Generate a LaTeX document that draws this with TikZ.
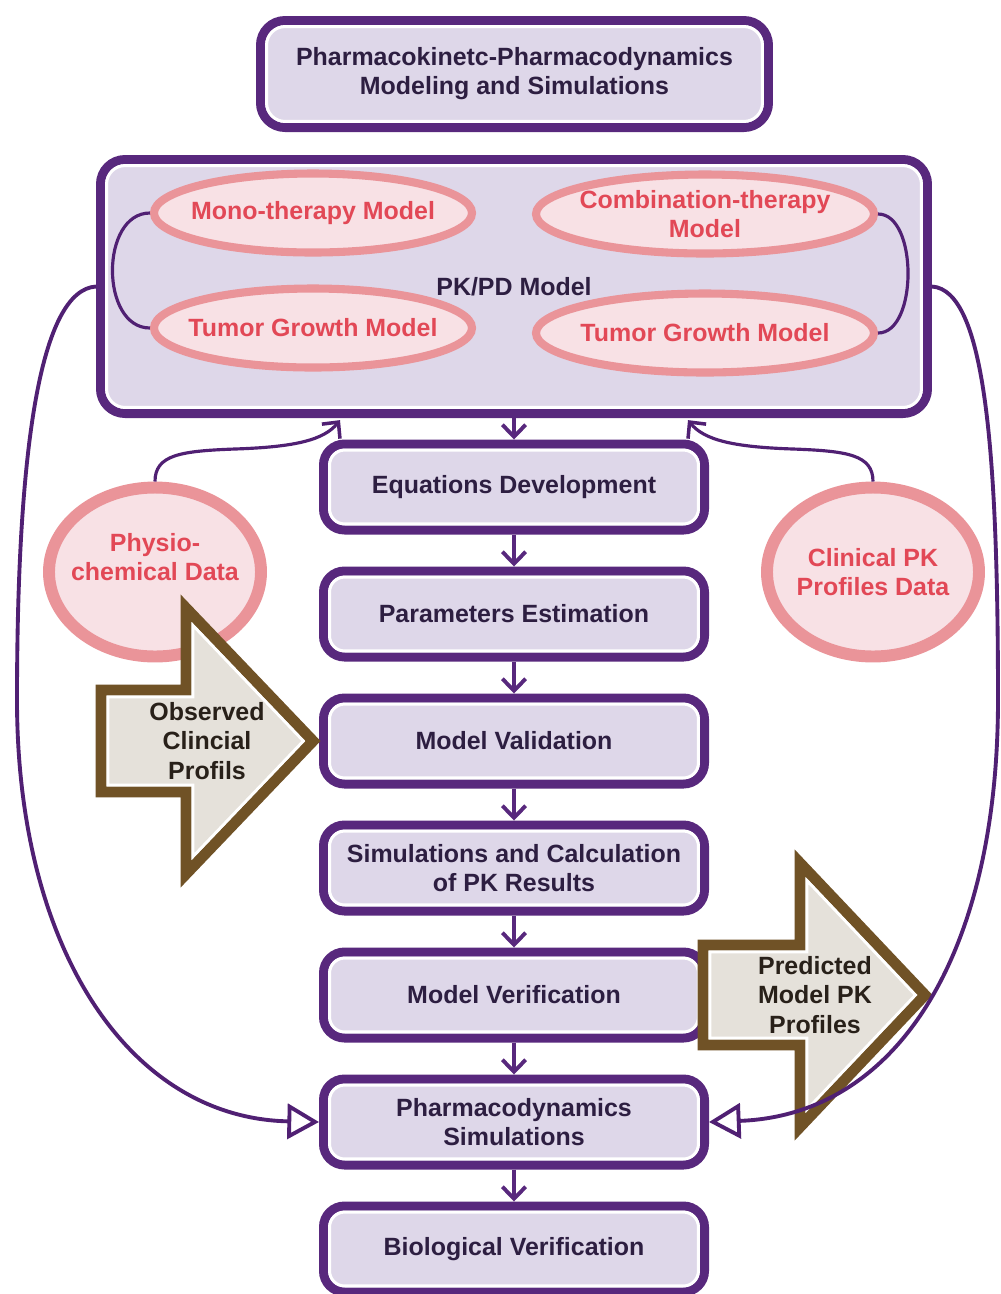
\documentclass[tikz,border=0pt]{standalone}
\usepackage{fontspec}
\setmainfont{Liberation Sans}
\usetikzlibrary{shapes.geometric,arrows.meta}

\definecolor{boxline}{RGB}{88,40,125}
\definecolor{boxfill}{RGB}{222,215,233}
\definecolor{boxtext}{RGB}{45,30,65}
\definecolor{wire}{RGB}{80,32,115}
\definecolor{ovline}{RGB}{234,148,153}
\definecolor{ovfill}{RGB}{248,225,229}
\definecolor{ovtext}{RGB}{226,72,86}
\definecolor{arrline}{RGB}{112,82,38}
\definecolor{arrfill}{RGB}{229,225,218}
\definecolor{arrtext}{RGB}{40,32,25}

\begin{document}
\begin{tikzpicture}[x=0.1mm,y=-0.1mm,
  txt/.style={font=\fontsize{7.1pt}{8.2pt}\selectfont\bfseries, align=center, inner sep=0pt},
  flowbox/.style={txt, text=boxtext, draw=boxline, line width=2.56pt, fill=boxfill,
    rounded corners=6pt, outer sep=1.28pt, minimum width=38.1mm, minimum height=8.6mm},
  innerframe/.style={draw=white, line width=0.85pt, rounded corners=4.3pt},
  oval/.style={ellipse, draw=ovline, line width=2.3pt, fill=ovfill, inner sep=0pt,
    outer sep=1.15pt, minimum width=31.8mm, minimum height=7.9mm},
  wideoval/.style={oval, minimum width=33.8mm},
  bigoval/.style={oval, line width=3.4pt, outer sep=1.7pt, minimum width=21.2mm, minimum height=16.9mm},
  ovtxt/.style={txt, text=ovtext},
  bigarrow/.style={draw=arrline, line width=3.1pt, fill=arrfill, line join=miter},
  arrinner/.style={draw=white, line width=0.8pt, line join=miter},
  arrtxt/.style={txt, text=arrtext, font=\fontsize{7.1pt}{8.4pt}\selectfont\bfseries},
  wireline/.style={draw=wire, line width=0.9pt},
  flowarrow/.style={draw=boxline, line width=1.1pt, -{Straight Barb[length=3.4pt,width=6.6pt,line width=1.1pt]}},
  feedarrow/.style={wireline, -{Straight Barb[length=3.4pt,width=6.6pt,line width=1pt]}},
  loopback/.style={draw=wire, line width=1.1pt, -{Triangle[open,length=9pt,width=10pt,line width=1.1pt]}}
]
\useasboundingbox (0,0) rectangle (1001,1294);
\fill[white] (0,0) rectangle (1001,1294);

% header and model container
\node[flowbox, minimum width=50.8mm, minimum height=10.7mm, rounded corners=7pt] (title) at (514.5,74)
  {Pharmacokinetc-Pharmacodynamics\\Modeling and Simulations};
\node[flowbox, minimum width=82.7mm, minimum height=25.4mm, rounded corners=7pt] (pkpd) at (514,286.5)
  {PK/PD Model};

% workflow steps
\node[flowbox] (eq)   at (514,487)  {Equations Development};
\node[flowbox] (pe)   at (514,614)  {Parameters Estimation};
\node[flowbox] (mv)   at (514,741)  {Model Validation};
\node[flowbox] (sc)   at (514,868)  {Simulations and Calculation\\of PK Results};
\node[flowbox] (mver) at (514,995)  {Model Verification};
\node[flowbox] (pds)  at (514,1122) {Pharmacodynamics\\Simulations};
\node[flowbox] (bv)   at (514,1249) {Biological Verification};

\foreach \n/\r in {title/5.3pt,pkpd/5.3pt,eq/4.3pt,pe/4.3pt,mv/4.3pt,sc/4.3pt,mver/4.3pt,pds/4.3pt,bv/4.3pt}
  \draw[innerframe, rounded corners=\r] ([xshift=3pt,yshift=-3pt]\n.north west) rectangle ([xshift=-3pt,yshift=3pt]\n.south east);

% sub-models inside the PK/PD container
\node[oval] (mono) at (313,213) {};
\node[oval] (tuml) at (313,328) {};
\node[wideoval] (comb) at (705,214) {};
\node[wideoval] (tumr) at (705,333) {};
\node[ovtxt] (monotxt) at (mono) {Mono-therapy Model};
\node[ovtxt] (tumltxt) at (tuml) {Tumor Growth Model};
\node[ovtxt] (combtxt) at (comb) {Combination-therapy\\Model};
\node[ovtxt] (tumrtxt) at (tumr) {Tumor Growth Model};

\draw[wireline] (mono.west) .. controls +(-50,0) and +(-50,0) .. (tuml.west);
\draw[wireline] (comb.east) .. controls +(40,0) and +(40,0) .. (tumr.east);

% data sources
\node[bigoval] (phys) at (155,572) {};
\node[bigoval] (clin) at (873,572) {};
\node[ovtxt] (phystxt) at (155,557) {Physio-\\chemical Data};
\node[ovtxt] (clintxt) at (clin) {Clinical PK\\Profiles Data};

\draw[feedarrow] (phys.north) .. controls (155,455) and (180,451) .. (235,449)
  .. controls (295,447) and (324,440) .. ([xshift=-17.4mm,yshift=-0.6pt]pkpd.south);
\draw[feedarrow] (clin.north) .. controls (873,455) and (848,451) .. (793,449)
  .. controls (733,447) and (704,440) .. ([xshift=17.4mm,yshift=-0.6pt]pkpd.south);

% step-to-step arrows
\draw[flowarrow] (pkpd.south) -- (eq.north);
\draw[flowarrow] (eq) -- (pe);
\draw[flowarrow] (pe) -- (mv);
\draw[flowarrow] (mv) -- (sc);
\draw[flowarrow] (sc) -- (mver);
\draw[flowarrow] (mver) -- (pds);
\draw[flowarrow] (pds) -- (bv);

% block arrows with profile inputs
\draw[bigarrow] (101,690) -- (186,690) -- (186,608) -- (313,741) -- (186,874) -- (186,792) -- (101,792) -- cycle;
\draw[arrinner] (108,697) -- (193,697) -- (193,625.5) -- (303.3,741) -- (193,856.5) -- (193,785) -- (108,785) -- cycle;
\node[arrtxt] (obstxt) at (207,741) {Observed\\Clincial\\Profils};

\draw[bigarrow] (703,945) -- (800,945) -- (800,863) -- (925,995) -- (800,1127) -- (800,1045) -- (703,1045) -- cycle;
\draw[arrinner] (710,952) -- (807,952) -- (807,880.6) -- (915.4,995) -- (807,1109.4) -- (807,1038) -- (710,1038) -- cycle;
\node[arrtxt] (predtxt) at (815,995) {Predicted\\Model PK\\Profiles};

% model feeding the pharmacodynamic simulations
\draw[loopback] (pkpd.west) .. controls (40,290) and (17,450) .. (17,700)
  .. controls (17,950) and (130,1118) .. (pds.west);
\draw[loopback] (pkpd.east) .. controls (985,290) and (998,450) .. (998,700)
  .. controls (998,950) and (900,1115) .. (pds.east);
\end{tikzpicture}
\end{document}
